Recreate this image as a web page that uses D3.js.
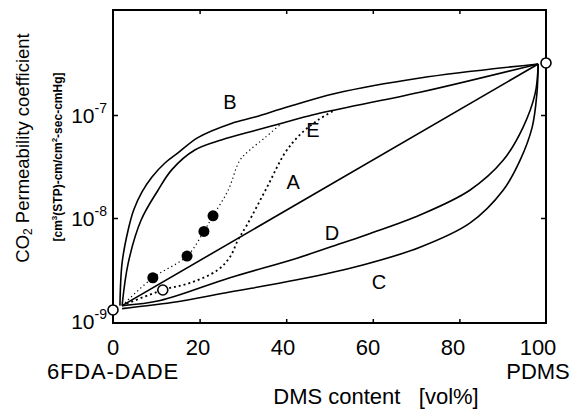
<!DOCTYPE html>
<html><head><meta charset="utf-8">
<script src="https://cdn.jsdelivr.net/npm/d3@7"></script>
<style>
body{margin:0;background:#fff;}
svg{display:block;font-family:"Liberation Sans",Arial,Helvetica,sans-serif;}
</style></head><body>
<svg id="chart" width="576" height="414"></svg>
<script>
// ---- data (DMS content vol%, CO2 permeability cm3(STP)cm/cm2 s cmHg) ----
const xTickValues = [0, 20, 40, 60, 80, 100];
const yTickValues = [1e-9, 1e-8, 1e-7];
const yTickExponents = ["-9", "-8", "-7"];
const endMembers = [[0, 1.28e-9], [100, 3.2e-7]];
const curveA = [[2.1, 1.41e-9], [98.2, 3.13e-7]];
const curveB = [[1.6, 1.41e-9], [2.1, 3.66e-9], [3.5, 7.64e-9], [4.8, 1.2e-8], [6.7, 1.79e-8], [9.0, 2.5e-8], [12.0, 3.42e-8], [15.0, 4.28e-8], [19.6, 6.03e-8], [27.5, 8.32e-8], [32.8, 9.55e-8], [40.4, 1.20e-7], [51.3, 1.62e-7], [70.9, 2.29e-7], [98.2, 3.13e-7]];
const curveE = [[2.1, 1.41e-9], [3.5, 3.63e-9], [6.5, 9.55e-9], [10.4, 1.86e-8], [13.6, 2.95e-8], [18.9, 4.57e-8], [25.2, 5.75e-8], [32.8, 7.08e-8], [39.0, 8.32e-8], [46.0, 1.0e-7], [51.3, 1.12e-7], [70.9, 1.66e-7], [98.2, 3.13e-7]];
const curveD = [[2.1, 1.41e-9], [10.9, 1.58e-9], [27.0, 2.63e-9], [42.5, 4.07e-9], [52.4, 5.62e-9], [59.4, 7.08e-9], [70.9, 1.07e-8], [82.4, 1.86e-8], [90.1, 3.63e-8], [94.7, 7.59e-8], [97.5, 1.62e-7], [98.2, 3.13e-7]];
const curveC = [[2.1, 1.32e-9], [13.6, 1.51e-9], [27.0, 1.91e-9], [42.5, 2.51e-9], [57.7, 3.5e-9], [70.9, 5.2e-9], [82.4, 8.91e-9], [90.1, 1.86e-8], [94.0, 3.63e-8], [96.8, 7.59e-8], [97.9, 1.62e-7], [98.2, 3.13e-7]];
const filledLine = [[2.1, 1.41e-9], [9.2, 2.63e-9], [17.1, 4.27e-9], [21.0, 7.41e-9], [23.1, 1.05e-8], [26.6, 1.86e-8], [29.3, 3.63e-8], [31.6, 4.57e-8], [35.1, 6.03e-8], [39.0, 8.32e-8]];
const filledPoints = [[9.2, 2.63e-9], [17.1, 4.27e-9], [21.0, 7.41e-9], [23.1, 1.05e-8]];
const openLine = [[2.1, 1.41e-9], [11.5, 2.0e-9], [17.8, 2.34e-9], [24.0, 3.09e-9], [27.0, 4.17e-9], [28.9, 6.17e-9], [30.9, 8.51e-9], [35.6, 2.0e-8], [39.7, 4.27e-8], [43.2, 6.46e-8], [47.3, 8.91e-8], [51.3, 1.12e-7]];
const openPoints = [[11.5, 2.0e-9]];
const curveNames = ["A", "B", "C", "D", "E"];
const curveNameAt = [[41.6, 2.24e-8], [27.0, 1.34e-7], [61.4, 2.39e-9], [50.6, 7.15e-9], [46.2, 7.15e-8]];

// ---- layout ----
const svg = d3.select("#chart");
const x = d3.scaleLinear().domain([0, 100]).range([113, 546]);
const xLabel = d3.scaleLinear().domain([0, 100]).range([113, 538]);
const y = d3.scaleLog().domain([1e-9, 1e-6]).range([321, 12]);
const frame = {l: 113, r: 546, t: 10, b: 323};

svg.append("rect").attr("x", frame.l).attr("y", frame.t)
  .attr("width", frame.r - frame.l).attr("height", frame.b - frame.t)
  .attr("fill", "none").attr("stroke", "#000").attr("stroke-width", 2);

// axes with inward ticks
const gB = svg.append("g").attr("transform", `translate(0,${frame.b})`)
  .call(d3.axisTop(x).tickValues(xTickValues.slice(1, -1)).tickSize(4).tickFormat(""));
const gT = svg.append("g").attr("transform", `translate(0,${frame.t})`)
  .call(d3.axisBottom(x).tickValues(xTickValues.slice(1, -1)).tickSize(4).tickFormat(""));
const gL = svg.append("g").attr("transform", `translate(${frame.l},0)`)
  .call(d3.axisRight(y).tickValues(yTickValues.slice(1)).tickSize(5).tickFormat(""));
const gR = svg.append("g").attr("transform", `translate(${frame.r},0)`)
  .call(d3.axisLeft(y).tickValues(yTickValues.slice(1)).tickSize(5).tickFormat(""));
[gB, gT, gL, gR].forEach(g => { g.select(".domain").remove(); g.selectAll("line").attr("stroke", "#000").attr("stroke-width", 1.5); });

// x tick labels
svg.selectAll(".xl").data(xTickValues).enter().append("text")
  .attr("x", d => xLabel(d)).attr("y", 355).attr("text-anchor", "middle")
  .attr("font-size", 22).text(d => d);

// y tick labels
const yl = svg.selectAll(".yl").data(yTickValues).enter().append("text")
  .attr("x", 107).attr("y", d => y(d) + 8).attr("text-anchor", "end").attr("font-size", 21);
yl.append("tspan").text("10");
yl.append("tspan").attr("font-size", 14).attr("dy", -10).text((d, i) => yTickExponents[i]);

// end labels
svg.append("text").attr("x", xLabel(0)).attr("y", 379).attr("text-anchor", "middle")
  .attr("font-size", 22).attr("letter-spacing", 0.8).text("6FDA-DADE");
svg.append("text").attr("x", xLabel(100)).attr("y", 379).attr("text-anchor", "middle")
  .attr("font-size", 22).text("PDMS");
svg.append("text").attr("x", 376).attr("y", 404).attr("text-anchor", "middle")
  .attr("font-size", 22).style("white-space", "pre").text("DMS content   [vol%]");

// y titles
const t1 = svg.append("text").attr("transform", "translate(29,148) rotate(-90)")
  .attr("text-anchor", "middle").attr("font-size", 18.5);
t1.append("tspan").text("CO");
t1.append("tspan").attr("font-size", 12).attr("dy", 3).text("2");
t1.append("tspan").attr("dy", -3).text(" Permeability  coefficient");
const t2 = svg.append("text").attr("transform", "translate(62,157) rotate(-90)")
  .attr("text-anchor", "middle").attr("font-size", 12).attr("font-weight", "bold");
t2.append("tspan").text("[cm");
t2.append("tspan").attr("font-size", 8).attr("dy", -5).text("3");
t2.append("tspan").attr("dy", 5).text("(STP)-cm/cm");
t2.append("tspan").attr("font-size", 8).attr("dy", -5).text("2");
t2.append("tspan").attr("dy", 5).text("-sec-cmHg]");

// curves
const line = d3.line().x(d => x(d[0])).y(d => y(d[1])).curve(d3.curveCatmullRom.alpha(0.5));
[curveA, curveB, curveC, curveD, curveE].forEach(c => {
  svg.append("path").attr("d", line(c)).attr("fill", "none").attr("stroke", "#000").attr("stroke-width", 1.6);
});
svg.append("path").attr("d", line(filledLine)).attr("fill", "none").attr("stroke", "#000")
  .attr("stroke-width", 1.2).attr("stroke-dasharray", "1.2,3");
svg.append("path").attr("d", line(openLine)).attr("fill", "none").attr("stroke", "#000")
  .attr("stroke-width", 1.8).attr("stroke-dasharray", "2,3");

svg.selectAll(".fp").data(filledPoints).enter().append("circle")
  .attr("cx", d => x(d[0])).attr("cy", d => y(d[1])).attr("r", 5.5).attr("fill", "#000");
svg.selectAll(".op").data(openPoints.concat(endMembers)).enter().append("circle")
  .attr("cx", d => x(d[0])).attr("cy", d => y(d[1])).attr("r", 5)
  .attr("fill", "#fff").attr("stroke", "#000").attr("stroke-width", 1.6);

// curve labels
svg.selectAll(".cn").data(curveNames).enter().append("text")
  .attr("x", (d, i) => x(curveNameAt[i][0])).attr("y", (d, i) => y(curveNameAt[i][1]))
  .attr("dy", "0.36em").attr("text-anchor", "middle").attr("font-size", 20).text(d => d);
</script>
</body></html>
